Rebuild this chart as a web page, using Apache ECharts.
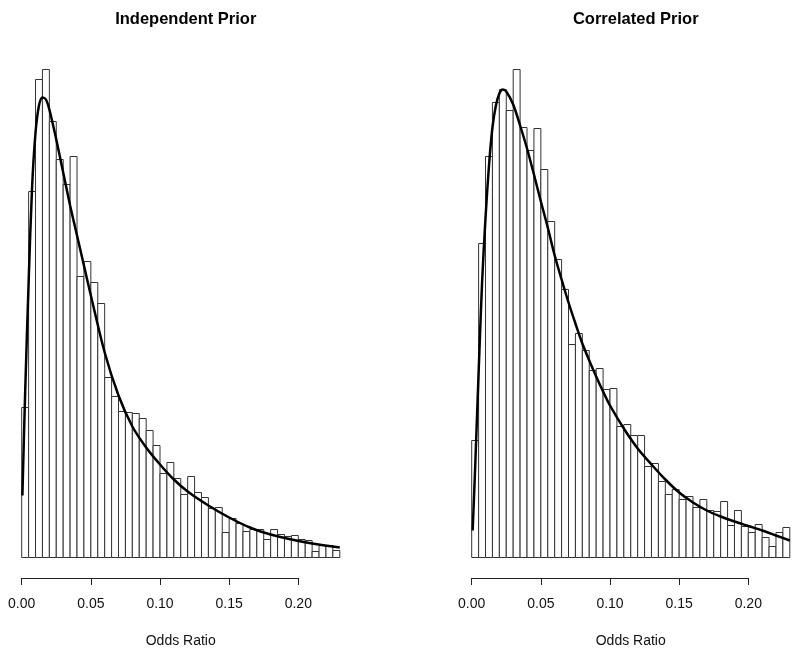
<!DOCTYPE html>
<html>
<head>
<meta charset="utf-8">
<script src="https://cdn.jsdelivr.net/npm/echarts@6/dist/echarts.min.js"></script>
<style>
html,body{margin:0;padding:0;background:#fff;}
#chart{width:800px;height:653px;}
</style>
</head>
<body>
<div id="chart"></div>
<script>
// ---- data (bin heights, arbitrary frequency units) ----
var binWidth = 0.005;
var tickLabels = ['0.00', '0.05', '0.10', '0.15', '0.20'];
var titles = ['Independent Prior', 'Correlated Prior'];
var xName = 'Odds Ratio';

var histIndependent = [150,366,478,488,436,398,373,401,281,296,
                       275,254,180,161,146,145,144,139,127,112,
                       84,95,79,63,81,65,60,49,50,25,
                       39,34,26,28,28,18,28,23,21,22,
                       18,17,6,12,12,7];
var histCorrelated  = [117,314,401,455,468,447,488,430,407,429,
                       388,336,298,268,213,224,207,187,189,168,
                       169,131,133,122,122,91,94,76,63,68,
                       58,61,50,58,47,46,56,32,47,31,
                       25,33,20,11,25,30];

var curveIndX = [0.0005,0.0025,0.005,0.0075,0.010,0.0125,0.015,0.0175,0.020,0.025,0.030,0.035,0.040,0.045,0.050,0.060,0.070,0.080,0.090,0.100,0.110,0.120,0.135,0.150,0.165,0.180,0.195,0.210,0.230];
var curveIndY = [62,165,275,370,425,452,460,458,448,418,385,352,322,292,262,205,162,131,110,93,78,66,52,40,30,23,18,14,10];

var curveCorX = [0.0007,0.0025,0.005,0.0075,0.010,0.0125,0.015,0.0175,0.020,0.0225,0.025,0.030,0.035,0.040,0.045,0.050,0.055,0.060,0.065,0.070,0.075,0.080,0.085,0.090,0.095,0.100,0.110,0.120,0.130,0.140,0.150,0.160,0.170,0.180,0.190,0.200,0.210,0.220,0.230];
var curveCorY = [27,90,185,275,340,392,430,452,464,468,466,453,432,409,383,356,330,302,278,255,234,214,197,181,166,152,129,109,93,78,65,55,47,41,36,31.5,27,22,17];

// ---- build ----
function binsData(h){ return h.map(function(v,i){ return [i*binWidth, (i+1)*binWidth, v]; }); }
function pairs(xs, ys){ return xs.map(function(x,i){ return [x, ys[i]]; }); }

var FONT = 'Liberation Sans, Arial, Helvetica, sans-serif';
var panelLeft = [21.7, 471.7];
var plotW = 318.1;   // 0 .. 0.23
var axisW = 276.6;   // 0 .. 0.20

var grids = [], xAxes = [], yAxes = [], series = [], titleArr = [];
[histIndependent, histCorrelated].forEach(function(hist, p){
  var curve = p === 0 ? pairs(curveIndX, curveIndY) : pairs(curveCorX, curveCorY);
  grids.push({left: panelLeft[p], width: plotW, top: 45.5, height: 512,
    containLabel: false, outerBoundsMode: 'none'});
  xAxes.push({gridIndex: 2*p, type: 'value', min: 0, max: 0.23,
    axisLine:{show:false}, axisTick:{show:false}, axisLabel:{show:false}, splitLine:{show:false},
    name: xName, nameLocation: 'middle', nameGap: 77,
    nameTextStyle: {fontFamily: FONT, fontSize: 14, color: '#111'}});
  yAxes.push({gridIndex: 2*p, type: 'value', min: 0, max: 512, show: false, splitLine:{show:false}});
  grids.push({left: panelLeft[p], width: axisW, bottom: 75, height: 10,
    containLabel: false, outerBoundsMode: 'none'});
  xAxes.push({gridIndex: 2*p+1, type: 'value', min: 0, max: 0.2, interval: 0.05,
    axisLine:{show:true, lineStyle:{color:'#222', width:1}},
    axisTick:{show:true, inside:false, length:7, lineStyle:{color:'#222', width:1}},
    axisLabel:{show:true, margin: 19, fontFamily: FONT, fontSize: 14, color:'#111',
      formatter: function(v){ var i = Math.round(v/0.05); return tickLabels[i] || ''; }},
    splitLine:{show:false}});
  yAxes.push({gridIndex: 2*p+1, type: 'value', min: 0, max: 1, show: false, splitLine:{show:false}});

  series.push({type: 'custom', xAxisIndex: 2*p, yAxisIndex: 2*p, data: binsData(hist),
    renderItem: function(params, api){
      var a = api.coord([api.value(0), 0]);
      var b = api.coord([api.value(1), api.value(2)]);
      return {type:'rect', shape:{x:a[0], y:b[1], width:b[0]-a[0], height:a[1]-b[1]},
        style:{fill:'#fff', stroke:'#333', lineWidth:1}};
    }, silent: true, animation: false});
  series.push({type: 'line', xAxisIndex: 2*p, yAxisIndex: 2*p, data: curve,
    smooth: 0.3, showSymbol: false, symbol: 'none',
    lineStyle: {color:'#000', width: 2.5}, silent: true, animation: false, z: 5});
  series.push({type:'line', xAxisIndex: 2*p+1, yAxisIndex: 2*p+1, data: [], silent: true});

  titleArr.push({text: titles[p], left: panelLeft[p] + plotW/2, top: 6, textAlign: 'center',
    textStyle: {fontFamily: FONT, fontSize: 16.5, fontWeight: 'bold', color: '#000'}});
});

var chart = echarts.init(document.getElementById('chart'), null, {renderer: 'canvas'});
chart.setOption({
  animation: false,
  backgroundColor: '#fff',
  title: titleArr,
  grid: grids,
  xAxis: xAxes,
  yAxis: yAxes,
  series: series
});
</script>
</body>
</html>
